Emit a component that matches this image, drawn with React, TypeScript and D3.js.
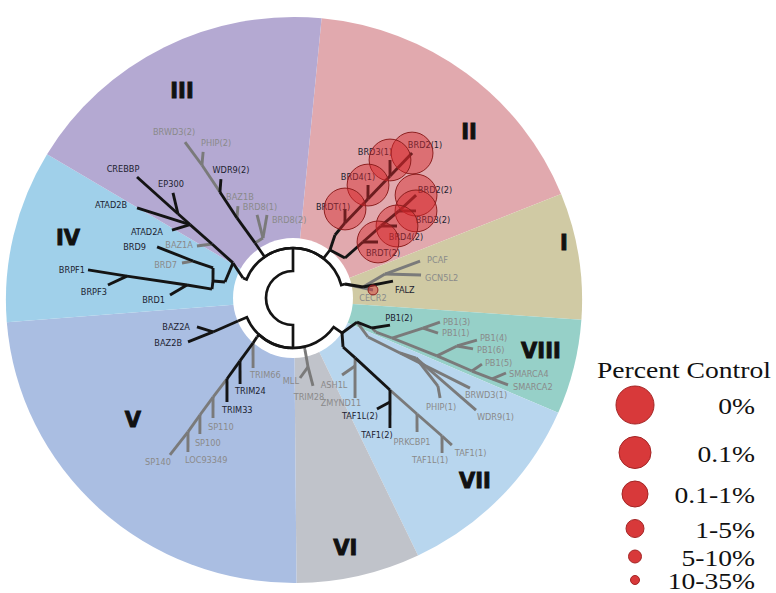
import React, { useEffect, useRef } from "react";
import * as d3 from "d3";

// bromodomain families, clockwise from 12 o'clock (start angle in degrees)
const families = ["II", "I", "VIII", "VII", "VI", "V", "IV", "III"];
const familyStart = [5.5, 68, 94, 113.5, 154.5, 179.5, 265.5, 301];

// tree nodes: [id, parent, angle (deg, clockwise from top), distance from centre]
const treeNodes: [string, string, number, number][] = [
  ["root", "", 270, 27],
  ["n_top", "root", 0, 50],
  ["n_bot", "root", 180, 50],
  // IV + CREBBP group
  ["n_x0", "n_top", 291.8, 53.9],
  ["n_x", "n_x0", 300.3, 69.5],
  ["n_iva", "n_x", 283.2, 69.9],
  ["n_iv", "n_iva", 282.0, 81.8],
  ["n_brd9", "n_iv", 290.6, 85.4],
  ["n_97", "n_brd9", 290.3, 106.6],
  ["BRD9", "n_97", 290.6, 145.2],
  ["BRD7", "n_97", 287.5, 116.4],
  ["n_brpf", "n_iv", 276.3, 81.5],
  ["n_a1", "n_brpf", 277.0, 106.8],
  ["BRD1", "n_a1", 271.4, 123.0],
  ["n_a2", "n_a1", 277.5, 167.5],
  ["BRPF1", "n_a2", 277.8, 206.9],
  ["BRPF3", "n_a2", 274.0, 185.5],
  ["n_baz1a", "n_x", 303.7, 97.3],
  ["BAZ1A", "n_baz1a", 298.4, 109.2],
  ["n_atad", "n_baz1a", 305.5, 126.5],
  ["ATAD2B", "n_atad", 300.0, 180.1],
  ["ATAD2A", "n_atad", 299.3, 138.8],
  ["n_ep", "n_atad", 306.2, 142.6],
  ["EP300", "n_ep", 311.2, 159.5],
  ["CREBBP", "n_ep", 307.8, 197.4],
  // III
  ["n_iiib", "n_top", 325.4, 66.9],
  ["n_brd8", "n_iiib", 333.4, 67.1],
  ["BRD8(1)", "n_brd8", 336.6, 90.5],
  ["BRD8(2)", "n_brd8", 342.6, 87.0],
  ["n_baz1b", "n_iiib", 325.0, 97.7],
  ["BAZ1B", "n_baz1b", 329.1, 107.2],
  ["n_wdr", "n_baz1b", 325.4, 128.7],
  ["WDR9(2)", "n_wdr", 328.8, 139.1],
  ["n_phip", "n_wdr", 325.6, 161.2],
  ["PHIP(2)", "n_phip", 328.4, 171.5],
  ["BRWD3(2)", "n_phip", 325.3, 189.7],
  // II (BET)
  ["n_ii", "n_top", 37.6, 60.6],
  ["n_iia", "n_ii", 33.7, 75.7],
  ["n_t1", "n_iia", 34.7, 91.3],
  ["BRDT(1)", "n_t1", 30.3, 103.1],
  ["n_41", "n_t1", 37.1, 124.2],
  ["BRD4(1)", "n_41", 33.6, 135.6],
  ["n_31", "n_41", 38.5, 155.9],
  ["BRD3(1)", "n_31", 35.1, 168.7],
  ["BRD2(1)", "n_31", 39.4, 187.6],
  ["n_iib", "n_ii", 52.4, 65.6],
  ["n_t2", "n_iib", 51.3, 89.6],
  ["BRDT(2)", "n_t2", 56.6, 101.8],
  ["n_42", "n_t2", 50.7, 113.7],
  ["BRD4(2)", "n_42", 55.3, 126.5],
  ["n_32", "n_42", 50.6, 137.1],
  ["BRD3(2)", "n_32", 54.7, 150.7],
  ["BRD2(2)", "n_32", 50.1, 160.4],
  // I
  ["n_i", "n_top", 75.0, 53.9],
  ["CECR2", "n_i", 84.3, 80.4],
  ["n_ia", "n_i", 81.1, 70.9],
  ["FALZ", "n_ia", 80.4, 101.4],
  ["n_pg", "n_ia", 75.4, 95.1],
  ["PCAF", "n_pg", 73.8, 132.3],
  ["GCN5L2", "n_pg", 79.8, 130.1],
  // VIII / VII
  ["n_lr", "n_bot", 125.5, 60.2],
  ["n_u", "n_lr", 110.6, 68.4],
  ["n_v", "n_u", 110.8, 84.5],
  ["PB1(2)", "n_v", 105.6, 100.7],
  ["n_pbx", "n_v", 112.3, 89.7],
  ["n_p3", "n_pbx", 112.0, 106.8],
  ["n_p31", "n_p3", 103.0, 133.4],
  ["PB1(3)", "n_p31", 99.3, 148.9],
  ["PB1(1)", "n_p31", 103.6, 149.2],
  ["n_p46", "n_p3", 111.9, 155.2],
  ["n_p46b", "n_p46", 106.3, 170.9],
  ["PB1(4)", "n_p46b", 102.9, 188.7],
  ["PB1(6)", "n_p46b", 105.8, 187.1],
  ["n_p5", "n_p46", 112.2, 193.3],
  ["PB1(5)", "n_p5", 109.3, 200.2],
  ["n_sm", "n_p5", 112.1, 214.9],
  ["SMARCA4", "n_sm", 109.4, 225.8],
  ["SMARCA2", "n_sm", 112.0, 231.9],
  ["n_bw", "n_u", 117.5, 84.5],
  ["n_w", "n_bw", 117.2, 120.3],
  ["BRWD3(1)", "n_w", 117.0, 198.6],
  ["n_w2", "n_w", 116.0, 136.9],
  ["WDR9(1)", "n_w2", 121.5, 214.6],
  ["n_ph", "n_w2", 121.3, 169.6],
  ["PHIP(1)", "n_ph", 124.2, 177.8],
  ["n_taf", "n_lr", 134.4, 70.0],
  ["n_ash", "n_taf", 133.9, 86.3],
  ["n_az", "n_ash", 137.6, 92.0],
  ["ZMYND11", "n_az", 148.2, 117.7],
  ["ASH1L", "n_az", 147.5, 91.3],
  ["n_a", "n_ash", 133.5, 133.7],
  ["n_t2b", "n_a", 137.0, 142.2],
  ["TAF1(2)", "n_t2b", 143.3, 162.2],
  ["TAF1L(2)", "n_t2b", 142.9, 139.2],
  ["n_b", "n_a", 133.1, 169.8],
  ["PRKCBP1", "n_b", 137.2, 182.6],
  ["n_c", "n_b", 132.8, 203.1],
  ["TAF1L(1)", "n_c", 136.1, 215.0],
  ["TAF1(1)", "n_c", 132.8, 216.5],
  // VI
  ["n_mlb", "n_bot", 167.0, 53.4],
  ["n_ml", "n_mlb", 167.7, 70.6],
  ["MLL", "n_ml", 175.0, 80.3],
  ["TRIM28", "n_ml", 167.2, 90.2],
  // V
  ["n_v0", "n_bot", 222.7, 53.1],
  ["n_t66", "n_v0", 221.6, 60.2],
  ["TRIM66", "n_t66", 209.7, 80.6],
  ["n_t24", "n_t66", 220.1, 82.3],
  ["TRIM24", "n_t24", 211.6, 101.0],
  ["n_t33", "n_t24", 219.2, 104.5],
  ["TRIM33", "n_t33", 212.4, 123.2],
  ["n_s110", "n_t33", 218.9, 127.3],
  ["SP110", "n_s110", 213.7, 144.2],
  ["n_s100", "n_s110", 218.5, 149.5],
  ["SP100", "n_s100", 214.4, 164.8],
  ["n_loc", "n_s100", 218.1, 170.2],
  ["LOC93349", "n_loc", 214.3, 186.4],
  ["SP140", "n_loc", 218.1, 199.4],
  ["n_bz", "n_bot", 247.3, 59.6],
  ["n_bza", "n_bz", 247.0, 86.9],
  ["BAZ2A", "n_bza", 253.2, 100.3],
  ["BAZ2B", "n_bza", 247.3, 113.8],
];

// bromodomains not tested (drawn grey)
const untested = [
  "BAZ1A", "BRD7", "BRD8(1)", "BRD8(2)", "BAZ1B", "PHIP(2)", "BRWD3(2)", "CECR2",
  "PCAF", "GCN5L2", "PB1(3)", "PB1(1)", "PB1(4)", "PB1(6)", "PB1(5)", "SMARCA4",
  "SMARCA2", "BRWD3(1)", "WDR9(1)", "PHIP(1)", "ZMYND11", "ASH1L", "PRKCBP1",
  "TAF1L(1)", "TAF1(1)", "MLL", "TRIM28", "TRIM66", "SP110", "SP100", "LOC93349", "SP140",
];

// binding hits and their percent-control class
const hitNames = ["BRD2(1)", "BRD3(1)", "BRD4(1)", "BRDT(1)", "BRD2(2)", "BRD3(2)", "BRD4(2)", "BRDT(2)", "CECR2"];
const hitLevel = ["0%", "0%", "0%", "0%", "0%", "0%", "0%", "0%", "10-35%"];

const pctLevels = ["0%", "0.1%", "0.1-1%", "1-5%", "5-10%", "10-35%"];

// layout only
const familyColor = ["#e1a9ae", "#d0caa4", "#96d0c8", "#b8d6ee", "#c0c3ca", "#aabee2", "#a0d0ea", "#b4a9d2"];
const numeralAt: Record<string, [number, number]> = {
  II: [46.7, 241.9], I: [78.5, 276.5], VIII: [102.1, 253.6], VII: [135.2, 258.1],
  VI: [168.2, 255.4], V: [232.7, 201.2], IV: [284.9, 232.9], III: [331.8, 234.9],
};
const labelAt: Record<string, [string, number, number]> = {
  CREBBP: ["middle", -14, -8], EP300: ["middle", -2, -9], ATAD2B: ["end", -10, -3],
  ATAD2A: ["end", -9, 2], BAZ1A: ["end", -4, -1], BRD9: ["end", -11, 0],
  BRD7: ["end", -5, 2], BRPF1: ["end", -3, 0], BRPF3: ["end", -1, 7], BRD1: ["end", -5, 5],
  "BRWD3(2)": ["middle", -11, -10], "PHIP(2)": ["middle", 13, -9], "WDR9(2)": ["middle", 10, -9],
  BAZ1B: ["middle", 2, -9], "BRD8(1)": ["middle", 3, -8], "BRD8(2)": ["start", 5, 5],
  "BRD3(1)": ["middle", -15, -8], "BRD2(1)": ["middle", 13, -8], "BRD4(1)": ["middle", -10, -8],
  "BRDT(1)": ["middle", -12, -2], "BRD2(2)": ["middle", 19, -5], "BRD3(2)": ["middle", 17, 9],
  "BRD4(2)": ["middle", 9, 11], "BRDT(2)": ["middle", 5, 11],
  PCAF: ["start", 7, -1], GCN5L2: ["start", 4, 3], FALZ: ["start", 2, 9], CECR2: ["middle", 0, 8],
  "PB1(2)": ["middle", 9, -7], "PB1(3)": ["start", 3, 0], "PB1(1)": ["start", 4, 0],
  "PB1(4)": ["start", 3, -2], "PB1(6)": ["start", 4, 1], "PB1(5)": ["start", 3, -1],
  SMARCA4: ["start", 3, 1], SMARCA2: ["start", 5, 2], "BRWD3(1)": ["start", -5, 7],
  "PHIP(1)": ["middle", 1, 9], "WDR9(1)": ["start", 1, 7], PRKCBP1: ["middle", -5, 10],
  "TAF1L(1)": ["middle", -12, 7], "TAF1(1)": ["start", 3, 8], "TAF1(2)": ["middle", -13, 7],
  "TAF1L(2)": ["end", 1, 7], ZMYND11: ["middle", -14, 5], ASH1L: ["middle", -8, 10],
  MLL: ["end", -1, 3], TRIM28: ["middle", -4, 11], TRIM66: ["start", -3, 7],
  TRIM24: ["start", -5, 7], TRIM33: ["start", -5, 8], SP110: ["start", -5, 9],
  SP100: ["start", -5, 9], LOC93349: ["start", -3, 8], SP140: ["middle", -12, 7],
  BAZ2A: ["end", -7, 0], BAZ2B: ["end", -6, 1],
};

export default function App() {
  const ref = useRef<SVGSVGElement>(null);

  useEffect(() => {
    const svg = d3.select(ref.current);
    svg.selectAll("*").remove();

    const width = 776;
    const height = 593;
    const cx = 293, cy = 298; // tree centre

    svg.append("rect").attr("width", width).attr("height", height).attr("fill", "#fff");

    const toRad = d3.scaleLinear().domain([0, 360]).range([0, 2 * Math.PI]);
    const rScale = d3.scaleLinear().domain([0, 100]).range([0, 100]);
    const pos = (a: number, r: number) => {
      const [x, y] = d3.pointRadial(toRad(a), rScale(r));
      return [cx + x, cy + y];
    };

    // family sectors (slightly wider than tall, like the original)
    const arc = d3.arc<any>().innerRadius(0).outerRadius(283);
    svg.append("g")
      .attr("transform", "translate(294,300) scale(1.018,1)")
      .selectAll("path")
      .data(families)
      .join("path")
      .attr("d", (_d, i) => arc({
        startAngle: toRad(familyStart[i]),
        endAngle: toRad(i + 1 < familyStart.length ? familyStart[i + 1] : familyStart[0] + 360),
      }))
      .attr("fill", (_d, i) => familyColor[i]);

    // white hub
    svg.append("circle").attr("cx", cx).attr("cy", cy).attr("r", 60).attr("fill", "#fff");

    // tree
    const root = d3.stratify<[string, string, number, number]>()
      .id(d => d[0])
      .parentId(d => (d[1] === "" ? null : d[1]))(treeNodes);

    const toneOf = (n: any) =>
      n.leaves().some((l: any) => !untested.includes(l.id)) ? "dark" : "grey";
    const stepParents = new Set(["root", "n_top", "n_bot"]);

    const linkPath = (p: any, c: any) => {
      const pa = p.data[2], pr = p.data[3], ca = c.data[2], cr = c.data[3];
      const path = d3.path();
      const [x0, y0] = pos(pa, pr);
      path.moveTo(x0, y0);
      if (stepParents.has(p.id)) {
        const delta = (((ca - pa) % 360) + 540) % 360 - 180;
        path.arc(cx, cy, rScale(pr), toRad(pa) - Math.PI / 2, toRad(pa + delta) - Math.PI / 2, delta < 0);
      }
      const [x1, y1] = pos(ca, cr);
      path.lineTo(x1, y1);
      return path.toString();
    };

    const links = root.links().sort((a: any, b: any) =>
      (toneOf(a.target) === "dark" ? 1 : 0) - (toneOf(b.target) === "dark" ? 1 : 0));

    svg.append("g")
      .attr("fill", "none")
      .selectAll("path")
      .data(links)
      .join("path")
      .attr("d", (l: any) => linkPath(l.source, l.target))
      .attr("stroke", (l: any) => (toneOf(l.target) === "dark" ? "#141414" : "#7a7a7a"))
      .attr("stroke-width", (l: any) => (stepParents.has(l.source.id) ? 2.7 : 2.9))
      .attr("stroke-linejoin", "miter");

    // family numerals
    svg.append("g")
      .selectAll("text")
      .data(families)
      .join("text")
      .attr("x", d => pos(numeralAt[d][0], numeralAt[d][1])[0])
      .attr("y", d => pos(numeralAt[d][0], numeralAt[d][1])[1])
      .attr("text-anchor", "middle")
      .attr("dominant-baseline", "central")
      .attr("font-family", "DejaVu Sans")
      .attr("font-weight", "bold")
      .attr("font-size", 21)
      .attr("fill", "#111")
      .attr("stroke", "#111")
      .attr("stroke-width", 0.9)
      .text(d => d);

    // leaf labels
    const leaves = root.leaves();
    svg.append("g")
      .attr("font-family", "DejaVu Sans")
      .attr("font-size", 8.2)
      .selectAll("text")
      .data(leaves)
      .join("text")
      .attr("x", (d: any) => pos(d.data[2], d.data[3])[0] + (labelAt[d.id] ? labelAt[d.id][1] : 0))
      .attr("y", (d: any) => pos(d.data[2], d.data[3])[1] + (labelAt[d.id] ? labelAt[d.id][2] : 0))
      .attr("text-anchor", (d: any) => (labelAt[d.id] ? labelAt[d.id][0] : "start"))
      .attr("dominant-baseline", "central")
      .attr("fill", (d: any) => (untested.includes(d.id) ? "#8a8a8a" : "#1c2230"))
      .text((d: any) => d.id);

    // percent-control circles
    const legendR = d3.scaleOrdinal<string, number>().domain(pctLevels).range([19, 16, 13, 9, 6.5, 4.5]);
    const leafById = new Map(leaves.map((l: any) => [l.id, l]));
    svg.append("g")
      .selectAll("circle")
      .data(hitNames)
      .join("circle")
      .attr("cx", d => { const l: any = leafById.get(d); return pos(l.data[2], l.data[3])[0]; })
      .attr("cy", d => { const l: any = leafById.get(d); return pos(l.data[2], l.data[3])[1]; })
      .attr("r", (_d, i) => legendR(hitLevel[i]) * 1.1)
      .attr("fill", "#d6282d")
      .attr("fill-opacity", 0.45)
      .attr("stroke", "#8e1f1f")
      .attr("stroke-width", 1);

    // legend
    const legend = svg.append("g").attr("font-family", "Liberation Serif").attr("fill", "#111");
    legend.append("text")
      .attr("transform", "translate(597,378) scale(1.2,1)")
      .attr("font-size", 23)
      .text("Percent Control");

    let y = 405;
    const ys: number[] = pctLevels.map((lv, i) => {
      if (i > 0) y += legendR(pctLevels[i - 1]) + legendR(lv) + 12.5;
      return y;
    });

    legend.selectAll("circle")
      .data(pctLevels)
      .join("circle")
      .attr("cx", 635)
      .attr("cy", (_d, i) => ys[i])
      .attr("r", d => legendR(d))
      .attr("fill", "#d8393a")
      .attr("stroke", "#a32424")
      .attr("stroke-width", 1);

    legend.selectAll("text.lv")
      .data(pctLevels)
      .join("text")
      .attr("class", "lv")
      .attr("transform", (_d, i) => `translate(755,${ys[i] + 9}) scale(1.2,1)`)
      .attr("text-anchor", "end")
      .attr("font-size", 23)
      .text(d => d);
  }, []);

  return (
    <svg
      ref={ref}
      width={776}
      height={593}
      style={{ position: "absolute", left: 0, top: 0 }}
    ></svg>
  );
}
